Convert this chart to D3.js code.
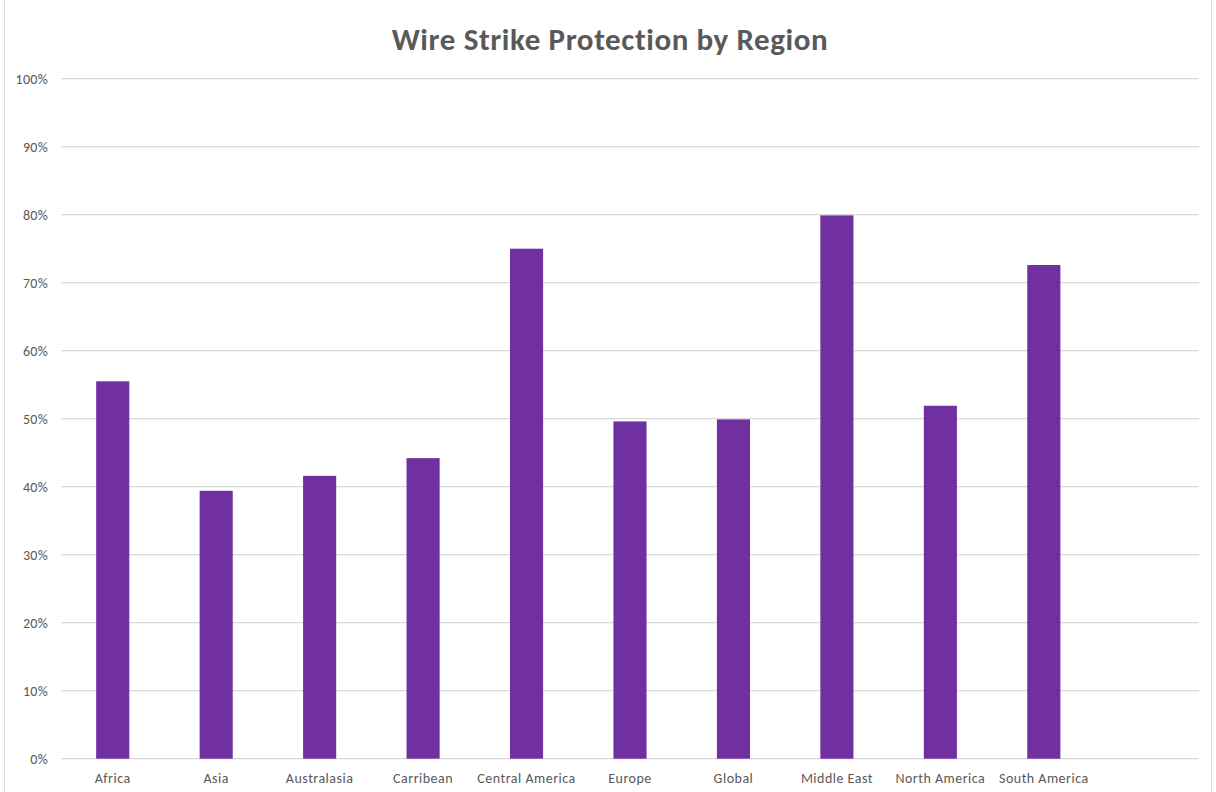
<!DOCTYPE html>
<html>
<head>
<meta charset="utf-8">
<script src="https://cdn.jsdelivr.net/npm/d3@7"></script>
<style>
  body { margin: 0; background: #fff; }
  svg { display: block; }
</style>
</head>
<body>
<svg id="chart" width="1216" height="792"></svg>
<script>
// values
const regions = ["Africa", "Asia", "Australasia", "Carribean", "Central America",
  "Europe", "Global", "Middle East", "North America", "South America"]
const protection = [55.5, 39.4, 41.6, 44.2, 75.0, 49.6, 49.9, 79.9, 51.9, 72.6]
const yTicks = [0, 10, 20, 30, 40, 50, 60, 70, 80, 90, 100]

const svg = d3.select("#chart")
const W = 1216, H = 792
const plot = { left: 61, right: 1199, top: 78.7, bottom: 758.7 }
const font = "Calibri, Carlito, Lato, 'Open Sans', sans-serif"

// outer chart border
svg.append("rect")
  .attr("x", 4.5).attr("y", -1).attr("width", W - 9).attr("height", H + 2)
  .attr("fill", "#fff").attr("stroke", "#d9d9d9")

svg.append("text")
  .attr("x", 610).attr("y", 50)
  .attr("text-anchor", "middle")
  .attr("font-family", font).attr("font-weight", "bold")
  .attr("font-size", 31).attr("letter-spacing", 0.6).attr("fill", "#595959")
  .text("Wire Strike Protection by Region")

// one empty slot at the end, like the source sheet
const slots = regions.concat([" "])
const x = d3.scaleBand().domain(slots)
  .range([plot.left, plot.right])
  .paddingInner(0.68).paddingOuter(0.34)

const y = d3.scaleLinear().domain([0, 100]).range([plot.bottom, plot.top])

const grid = svg.append("g")
grid.selectAll("line").data(yTicks).enter()
  .append("line")
  .attr("x1", plot.left).attr("x2", plot.right)
  .attr("y1", d => y(d)).attr("y2", d => y(d))
  .attr("stroke", "#d9d9d9").attr("stroke-width", 1.3)

const yAxis = d3.axisLeft(y).tickValues(yTicks).tickSize(0).tickPadding(13)
  .tickFormat(d => d + "%")
svg.append("g")
  .attr("transform", `translate(${plot.left},0)`)
  .call(yAxis)
  .call(g => g.select(".domain").remove())
  .call(g => g.selectAll("text")
    .attr("font-family", font).attr("font-size", 14).attr("letter-spacing", 0.3)
    .attr("fill", "#595959"))

svg.append("g").selectAll("rect").data(protection).enter()
  .append("rect")
  .attr("x", (d, i) => x(regions[i]))
  .attr("width", x.bandwidth())
  .attr("y", d => y(d))
  .attr("height", d => y(0) - y(d))
  .attr("fill", "#7030a0")

const xAxis = d3.axisBottom(x).tickValues(regions).tickSize(0).tickPadding(14)
svg.append("g")
  .attr("transform", `translate(0,${plot.bottom})`)
  .call(xAxis)
  .call(g => g.select(".domain").remove())
  .call(g => g.selectAll("text")
    .attr("font-family", font).attr("font-size", 14).attr("letter-spacing", 0.5)
    .attr("fill", "#595959"))
</script>
</body>
</html>
